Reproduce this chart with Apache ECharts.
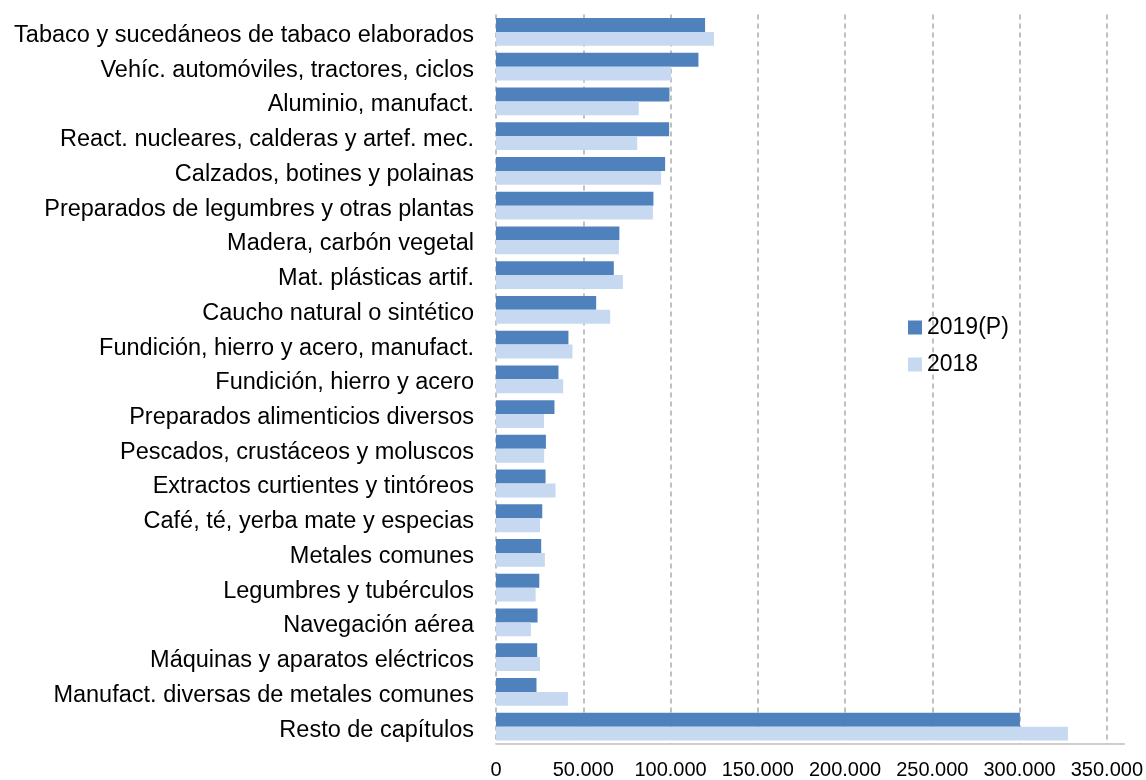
<!DOCTYPE html>
<html>
<head>
<meta charset="utf-8">
<script src="https://cdn.jsdelivr.net/npm/echarts@6/dist/echarts.min.js"></script>
<style>
html,body{margin:0;padding:0;background:#fff;}
#chart{width:1146px;height:780px;}
</style>
</head>
<body>
<div id="chart"></div>
<script>
var categories = [
  "Tabaco y sucedáneos de tabaco elaborados",
  "Vehíc. automóviles, tractores, ciclos",
  "Aluminio, manufact.",
  "React. nucleares, calderas y artef. mec.",
  "Calzados, botines y polainas",
  "Preparados de legumbres y otras plantas",
  "Madera, carbón vegetal",
  "Mat. plásticas artif.",
  "Caucho natural o sintético",
  "Fundición, hierro y acero, manufact.",
  "Fundición, hierro y acero",
  "Preparados alimenticios diversos",
  "Pescados, crustáceos y moluscos",
  "Extractos curtientes y tintóreos",
  "Café, té, yerba mate y especias",
  "Metales comunes",
  "Legumbres y tubérculos",
  "Navegación aérea",
  "Máquinas y aparatos eléctricos",
  "Manufact. diversas de metales comunes",
  "Resto de capítulos"
];
var values2019 = [119800, 116000, 99400, 99200, 96900, 90200, 70700, 67500, 57400, 41500, 35800, 33500, 28600, 28400, 26500, 25900, 24800, 23800, 23600, 23200, 300200];
var values2018 = [124900, 100300, 81800, 80900, 94600, 89900, 70400, 72700, 65400, 43800, 38500, 27500, 27600, 34100, 25200, 28000, 22700, 20000, 25200, 41200, 327700];
var seriesNames = ["2019(P)", "2018"];
var xTicks = { min: 0, max: 360000, interval: 50000, lastLabel: 350000 };

function fmt(v) {
  return String(v).replace(/\B(?=(\d{3})+(?!\d))/g, ".");
}

var chart = echarts.init(document.getElementById('chart'), null, { renderer: 'canvas' });
var font = '"Liberation Sans", Arial, Helvetica, sans-serif';
chart.setOption({
  animation: false,
  backgroundColor: '#ffffff',
  grid: { left: 496, right: 20, top: 14.6, bottom: 35, containLabel: false },
  legend: {
    orient: 'vertical',
    left: 908,
    top: 316,
    padding: 0,
    itemWidth: 14,
    itemHeight: 14,
    itemGap: 14,
    icon: 'rect',
    data: seriesNames,
    textStyle: { fontFamily: font, fontSize: 23, color: '#000', lineHeight: 23 }
  },
  xAxis: {
    type: 'value',
    min: xTicks.min,
    max: xTicks.max,
    interval: xTicks.interval,
    axisLine: { show: true, lineStyle: { color: '#bfbfbf', width: 1.5 } },
    axisTick: { show: false },
    splitLine: { show: true, showMaxLine: false, lineStyle: { color: '#c0c0c0', type: [5, 4], width: 2 } },
    axisLabel: {
      margin: 16,
      fontFamily: font, fontSize: 20, color: '#000',
      showMaxLabel: false,
      formatter: function (v) { return v > xTicks.lastLabel ? '' : fmt(v); }
    }
  },
  yAxis: {
    type: 'category',
    inverse: true,
    data: categories,
    axisLine: { show: false },
    axisTick: { show: false },
    splitLine: { show: false },
    axisLabel: { margin: 22, fontFamily: font, fontSize: 23.5, color: '#000', verticalAlign: 'top', lineHeight: 7 }
  },
  series: [
    { name: seriesNames[0], type: 'bar', data: values2019, barGap: '0%', barCategoryGap: '20%',
      itemStyle: { color: '#4f81bd' } },
    { name: seriesNames[1], type: 'bar', data: values2018, barGap: '0%', barCategoryGap: '20%',
      itemStyle: { color: '#c6d9f1' } }
  ]
});
</script>
</body>
</html>
